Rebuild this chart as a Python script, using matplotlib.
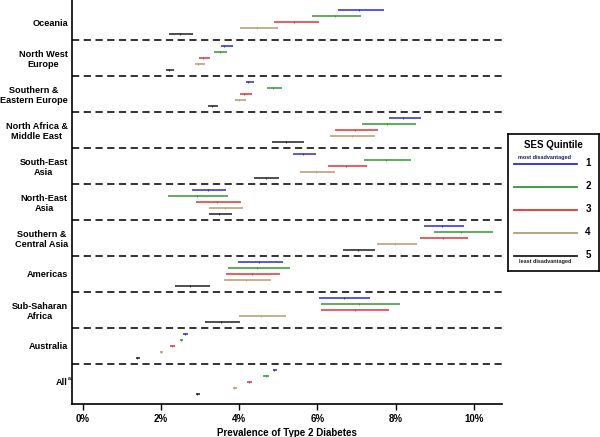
import matplotlib
matplotlib.use('Agg')
import matplotlib.pyplot as plt
from matplotlib.lines import Line2D

plt.rcParams['font.family'] = ['Liberation Sans', 'DejaVu Sans']
plt.rcParams['font.weight'] = 'bold'

# 地区（从上到下）
regions = ['Oceania', 'North West\nEurope', 'Southern &\nEastern Europe',
           'North Africa &\nMiddle East', 'South-East\nAsia', 'North-East\nAsia',
           'Southern &\nCentral Asia', 'Americas', 'Sub-Saharan\nAfrica',
           'Australia', 'All']

# 每个地区按 SES 五分位 1..5 的患病率 (%)：下限、估计值、上限
q1_low = [6.52, 3.52, 4.16, 7.82, 5.38, 2.80, 8.73, 3.97, 6.05, 2.56, 4.85]
q1_est = [7.07, 3.62, 4.22, 8.19, 5.62, 3.19, 9.19, 4.51, 6.67, 2.61, 4.89]
q1_high = [7.70, 3.84, 4.38, 8.64, 5.95, 3.66, 9.74, 5.12, 7.35, 2.70, 4.96]

q2_low = [5.86, 3.35, 4.71, 7.14, 7.19, 2.18, 8.97, 3.72, 6.08, 2.47, 4.61]
q2_est = [6.45, 3.50, 4.86, 7.79, 7.76, 2.93, 9.68, 4.45, 7.06, 2.51, 4.67]
q2_high = [7.12, 3.69, 5.10, 8.52, 8.40, 3.70, 10.49, 5.29, 8.11, 2.57, 4.76]

q3_low = [4.89, 2.96, 4.01, 6.44, 6.27, 2.89, 8.63, 3.67, 6.10, 2.22, 4.20]
q3_est = [5.41, 3.07, 4.11, 6.95, 6.72, 3.44, 9.22, 4.32, 6.95, 2.27, 4.24]
q3_high = [6.03, 3.25, 4.33, 7.55, 7.26, 4.05, 9.86, 5.03, 7.84, 2.35, 4.33]

q4_low = [4.01, 2.87, 3.89, 6.32, 5.54, 3.23, 7.53, 3.60, 3.98, 1.96, 3.83]
q4_est = [4.46, 2.94, 3.98, 6.87, 5.97, 3.63, 7.99, 4.16, 4.56, 2.00, 3.87]
q4_high = [4.98, 3.11, 4.18, 7.46, 6.46, 4.10, 8.54, 4.81, 5.20, 2.06, 3.93]

q5_low = [2.19, 2.12, 3.21, 4.84, 4.38, 3.23, 6.66, 2.35, 3.13, 1.35, 2.90]
q5_est = [2.47, 2.20, 3.30, 5.20, 4.67, 3.48, 7.03, 2.75, 3.53, 1.39, 2.93]
q5_high = [2.82, 2.33, 3.45, 5.65, 5.02, 3.81, 7.48, 3.25, 4.01, 1.46, 2.99]

quintiles = ['1', '2', '3', '4', '5']
colors = ['#2a2ad2', '#2f9a2f', '#e63232', '#b89a6c', '#1e1e1e']
x_ticks = [0, 2, 4, 6, 8, 10]
x_tick_labels = ['0%', '2%', '4%', '6%', '8%', '10%']

series = [(q1_low, q1_est, q1_high), (q2_low, q2_est, q2_high),
          (q3_low, q3_est, q3_high), (q4_low, q4_est, q4_high),
          (q5_low, q5_est, q5_high)]

fig = plt.figure(figsize=(6.0, 4.37), dpi=100)
ax = fig.add_axes([72 / 600, 1 - 404 / 437, 430 / 600, 404 / 437])

n = len(regions)
for q, (lo, est, hi) in enumerate(series):
    for g in range(n):
        y = g * 6 + q + 1
        ax.plot([lo[g], hi[g]], [y, y], color=colors[q], lw=1.1, solid_capstyle='butt')
        ax.plot([est[g]], [y], marker='|', markersize=1.6, mew=0.6, color=colors[q])

# 地区分隔虚线
for g in range(n - 1):
    ax.axhline(g * 6 + 6, color='#222222', lw=1.3, ls=(0, (4, 2.5)))

ax.set_xlim(-0.28, 10.72)
ax.set_ylim(66.67, -0.67)
ax.set_xticks(x_ticks)
ax.set_xticklabels(x_tick_labels, fontsize=7, fontweight='bold')
ax.set_yticks([g * 6 + 3 for g in range(n)])
ax.set_yticklabels(regions, fontsize=6.6, fontweight='bold', multialignment='center')
ax.tick_params(axis='y', length=0, pad=3)
ax.tick_params(axis='x', length=4, width=1, direction='out', pad=3)
ax.spines['top'].set_visible(False)
ax.spines['right'].set_visible(False)
ax.spines['left'].set_linewidth(1.2)
ax.spines['bottom'].set_linewidth(1.2)
ax.set_xlabel('Prevalence of Type 2 Diabetes', fontsize=7, fontweight='bold', labelpad=3)
# "All" 的上标 a
fig.text(67.5 / 600, 1 - 378 / 437, 'a', fontsize=4, ha='left', va='center')

# 图例框
lax = fig.add_axes([508 / 600, 1 - 271 / 437, 91 / 600, 137 / 437])
lax.set_xlim(0, 91)
lax.set_ylim(137, 0)
lax.set_xticks([])
lax.set_yticks([])
for s in lax.spines.values():
    s.set_linewidth(1.2)
lax.text(45, 11, 'SES Quintile', ha='center', va='center', fontsize=7, fontweight='bold')
leg_y = [30, 53, 76, 99, 122]
for q in range(5):
    lax.add_line(Line2D([6, 69], [leg_y[q], leg_y[q]], color=colors[q], lw=1.3))
    lax.text(80, leg_y[q] - 1, quintiles[q], ha='center', va='center', fontsize=7)
lax.text(37, leg_y[0] - 3.5, 'most disadvantaged', ha='center', va='bottom',
         fontsize=4, color='#1e1e60')
lax.text(37, leg_y[4] + 2.5, 'least disadvantaged', ha='center', va='top',
         fontsize=4, color='#1e1e1e')

fig.savefig('out.png', dpi=100)
